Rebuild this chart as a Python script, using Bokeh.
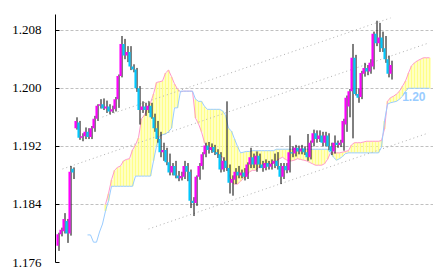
import numpy as np
from bokeh.plotting import figure
from bokeh.models import Range1d, FixedTicker, PrintfTickFormatter, ColumnDataSource
from bokeh.core.properties import value
from bokeh.embed import file_html
from bokeh.resources import INLINE

# ---- candle data (one candle per period) ----
opens = [
    1.1783, 1.1799, 1.1803, 1.1817, 1.1800, 1.1889, 1.1945, 1.1953, 1.1932, 1.1934,
    1.1940, 1.1933, 1.1945, 1.1958, 1.1976, 1.1978, 1.1972, 1.1975, 1.1968, 1.1971,
    1.1985, 1.2017, 1.2061, 1.2045, 1.2050, 1.2030, 1.2026, 1.2000, 1.1970, 1.1975,
    1.1970, 1.1976, 1.1960, 1.1945, 1.1930, 1.1912, 1.1915, 1.1898, 1.1884, 1.1893,
    1.1880, 1.1876, 1.1878, 1.1893, 1.1885, 1.1845, 1.1842, 1.1878, 1.1893, 1.1909,
    1.1921, 1.1915, 1.1919, 1.1912, 1.1909, 1.1888, 1.1900, 1.1890, 1.1870, 1.1874,
    1.1885, 1.1880, 1.1884, 1.1878, 1.1895, 1.1905, 1.1895, 1.1907, 1.1895, 1.1890,
    1.1897, 1.1892, 1.1896, 1.1900, 1.1893, 1.1878, 1.1893, 1.1887, 1.1912, 1.1910,
    1.1918, 1.1913, 1.1917, 1.1912, 1.1905, 1.1925, 1.1938, 1.1930, 1.1935, 1.1925,
    1.1935, 1.1920, 1.1913, 1.1925, 1.1922, 1.1925, 1.1950, 1.1975, 1.1996, 1.2042,
    1.1992, 1.1988, 1.2020, 1.2028, 1.2023, 1.2030, 1.2075, 1.2062, 1.2070, 1.2055,
    1.2040, 1.2020,
]
highs = [
    1.1801, 1.1808, 1.1828, 1.1820, 1.1893, 1.1891, 1.1960, 1.1955, 1.1938, 1.1946,
    1.1945, 1.1948, 1.1962, 1.1978, 1.1985, 1.1986, 1.1983, 1.1978, 1.1976, 1.1988,
    1.2019, 1.2072, 1.2068, 1.2058, 1.2058, 1.2033, 1.2028, 1.2003, 1.1982, 1.1980,
    1.1982, 1.1980, 1.1965, 1.1955, 1.1940, 1.1925, 1.1918, 1.1910, 1.1897, 1.1900,
    1.1886, 1.1885, 1.1900, 1.1897, 1.1888, 1.1850, 1.1880, 1.1897, 1.1912, 1.1925,
    1.1926, 1.1924, 1.1922, 1.1916, 1.1912, 1.1905, 1.1982, 1.1895, 1.1880, 1.1890,
    1.1893, 1.1888, 1.1890, 1.1898, 1.1918, 1.1910, 1.1913, 1.1910, 1.1900, 1.1902,
    1.1900, 1.1902, 1.1910, 1.1912, 1.1897, 1.1897, 1.1897, 1.1935, 1.1920, 1.1922,
    1.1921, 1.1922, 1.1920, 1.1937, 1.1928, 1.1943, 1.1942, 1.1942, 1.1940, 1.1940,
    1.1938, 1.1925, 1.1935, 1.1928, 1.1929, 1.1958, 1.1990, 1.1999, 1.2061, 1.2046,
    1.2000, 1.2024, 1.2035, 1.2032, 1.2040, 1.2078, 1.2093, 1.2090, 1.2078, 1.2072,
    1.2045, 1.2038,
]
lows = [
    1.1776, 1.1796, 1.1800, 1.1787, 1.1797, 1.1875, 1.1943, 1.1929, 1.1927, 1.1930,
    1.1930, 1.1930, 1.1940, 1.1955, 1.1972, 1.1970, 1.1966, 1.1964, 1.1966, 1.1968,
    1.1973, 1.2015, 1.2040, 1.2036, 1.2025, 1.2022, 1.1995, 1.1950, 1.1966, 1.1962,
    1.1966, 1.1958, 1.1940, 1.1925, 1.1905, 1.1900, 1.1894, 1.1880, 1.1880, 1.1876,
    1.1872, 1.1873, 1.1875, 1.1872, 1.1835, 1.1824, 1.1838, 1.1874, 1.1888, 1.1905,
    1.1910, 1.1911, 1.1908, 1.1904, 1.1884, 1.1885, 1.1886, 1.1855, 1.1852, 1.1868,
    1.1876, 1.1876, 1.1873, 1.1875, 1.1890, 1.1890, 1.1885, 1.1890, 1.1885, 1.1887,
    1.1888, 1.1888, 1.1890, 1.1888, 1.1868, 1.1875, 1.1883, 1.1884, 1.1905, 1.1906,
    1.1909, 1.1909, 1.1908, 1.1900, 1.1902, 1.1920, 1.1925, 1.1926, 1.1920, 1.1920,
    1.1915, 1.1908, 1.1910, 1.1918, 1.1919, 1.1914, 1.1940, 1.1960, 1.1931, 1.1990,
    1.1980, 1.1985, 1.2016, 1.2018, 1.2020, 1.2026, 1.2058, 1.2050, 1.2050, 1.2035,
    1.2015, 1.2012,
]
closes = [
    1.1799, 1.1805, 1.1820, 1.1800, 1.1885, 1.1884, 1.1955, 1.1932, 1.1934, 1.1940,
    1.1933, 1.1945, 1.1958, 1.1976, 1.1978, 1.1972, 1.1975, 1.1968, 1.1971, 1.1985,
    1.2017, 1.2061, 1.2045, 1.2050, 1.2030, 1.2026, 1.2000, 1.1970, 1.1975, 1.1970,
    1.1976, 1.1960, 1.1945, 1.1930, 1.1912, 1.1915, 1.1898, 1.1884, 1.1893, 1.1880,
    1.1876, 1.1879, 1.1893, 1.1885, 1.1845, 1.1842, 1.1878, 1.1893, 1.1909, 1.1921,
    1.1915, 1.1919, 1.1912, 1.1909, 1.1888, 1.1900, 1.1890, 1.1870, 1.1875, 1.1885,
    1.1880, 1.1884, 1.1878, 1.1895, 1.1905, 1.1895, 1.1907, 1.1895, 1.1890, 1.1897,
    1.1892, 1.1896, 1.1900, 1.1893, 1.1878, 1.1893, 1.1887, 1.1912, 1.1910, 1.1918,
    1.1913, 1.1917, 1.1912, 1.1905, 1.1925, 1.1938, 1.1930, 1.1935, 1.1925, 1.1935,
    1.1920, 1.1913, 1.1925, 1.1922, 1.1925, 1.1955, 1.1987, 1.1996, 1.2042, 1.1992,
    1.1987, 1.2021, 1.2028, 1.2023, 1.2035, 1.2075, 1.2062, 1.2070, 1.2055, 1.2040,
    1.2020, 1.2032,
]

# ---- Ichimoku cloud spans (shifted forward, start at given period index) ----
span_a_start = 16
span_a = [
    1.1840, 1.1855, 1.1874, 1.1887, 1.1891, 1.1893, 1.1900, 1.1902, 1.1903, 1.1915,
    1.1922, 1.1932, 1.1958, 1.1963, 1.1972, 1.1980, 1.1992, 1.2008, 1.2009, 1.2010,
    1.2021, 1.2025, 1.2016, 1.2006, 1.1999, 1.1995, 1.1996, 1.1996, 1.1996, 1.1996,
    1.1959, 1.1951, 1.1940, 1.1925, 1.1918, 1.1916, 1.1914, 1.1911, 1.1908, 1.1905,
    1.1896, 1.1883, 1.1872, 1.1868, 1.1868, 1.1872, 1.1876, 1.1880, 1.1885, 1.1887,
    1.1887, 1.1891, 1.1893, 1.1896, 1.1896, 1.1896, 1.1897, 1.1900, 1.1903, 1.1905,
    1.1902, 1.1900, 1.1900, 1.1901, 1.1903, 1.1902, 1.1901, 1.1900, 1.1898, 1.1896,
    1.1894, 1.1894, 1.1894, 1.1896, 1.1902, 1.1911, 1.1911, 1.1911, 1.1911, 1.1912,
    1.1913, 1.1914, 1.1922, 1.1925, 1.1925, 1.1925, 1.1926, 1.1927, 1.1927, 1.1927,
    1.1927, 1.1927, 1.1928, 1.1944, 1.1982, 1.1987, 1.1989, 1.1992, 1.1996, 1.2003,
    1.2010, 1.2021, 1.2031, 1.2035, 1.2038, 1.2040, 1.2042, 1.2042, 1.2042,
]
span_b_start = 10
span_b = [
    1.1798, 1.1798, 1.1788, 1.1788, 1.1802, 1.1813, 1.1831, 1.1845, 1.1865, 1.1865,
    1.1865, 1.1865, 1.1865, 1.1865, 1.1865, 1.1865, 1.1879, 1.1879, 1.1879, 1.1879,
    1.1879, 1.1879, 1.1900, 1.1920, 1.1934, 1.1936, 1.1937, 1.1940, 1.1945, 1.1973,
    1.1973, 1.1996, 1.1996, 1.1996, 1.1996, 1.1996, 1.1985, 1.1982, 1.1982, 1.1975,
    1.1971, 1.1971, 1.1971, 1.1971, 1.1971, 1.1969, 1.1963, 1.1945, 1.1941, 1.1930,
    1.1920, 1.1911, 1.1912, 1.1913, 1.1913, 1.1914, 1.1914, 1.1914, 1.1914, 1.1914,
    1.1914, 1.1914, 1.1914, 1.1916, 1.1916, 1.1916, 1.1916, 1.1916, 1.1916, 1.1916,
    1.1916, 1.1916, 1.1916, 1.1916, 1.1916, 1.1916, 1.1916, 1.1916, 1.1916, 1.1916,
    1.1916, 1.1911, 1.1905, 1.1901, 1.1903, 1.1906, 1.1910, 1.1911, 1.1911, 1.1911,
    1.1911, 1.1911, 1.1911, 1.1911, 1.1911, 1.1911, 1.1911, 1.1911, 1.1919, 1.1955,
    1.1978, 1.1980, 1.1981, 1.1982, 1.1985, 1.1989, 1.1996, 1.2000, 1.2000, 1.2000,
    1.2000, 1.2000, 1.2000, 1.2000, 1.2000,
]
span_b_label = "1.20"

# ---- dotted trend channel lines (period index, price) ----
trend_x0 = [1.67, 15.0, 30.33]
trend_y0 = [1.18888, 1.19604, 1.18061]
trend_x1 = [123.67, 111.0, 123.67]
trend_y1 = [1.20623, 1.20968, 1.19384]

y_ticks = [1.176, 1.184, 1.192, 1.200, 1.208]

# ---- build ----
n = len(closes)
idx = np.arange(n)
o = np.array(opens); c = np.array(closes)
bull = c >= o
candles = ColumnDataSource(dict(
    x=idx, xw=idx + 0.5, high=highs, low=lows,
    top=np.maximum(o, c), bottom=np.minimum(o, c),
    color=np.where(bull, "#ff00ff", "#00c8ff"),
))

total = span_b_start + len(span_b)
a_full = np.full(total, np.nan); a_full[span_a_start:span_a_start + len(span_a)] = span_a
b_full = np.full(total, np.nan); b_full[span_b_start:] = span_b
cidx = np.arange(total)
both = ~np.isnan(a_full) & ~np.isnan(b_full)
cloud = ColumnDataSource(dict(
    x=cidx[both], top=np.fmax(a_full, b_full)[both], bottom=np.fmin(a_full, b_full)[both]))

p = figure(width=433, height=275, output_backend="svg", toolbar_location=None,
           x_range=Range1d(-0.667, 125.333), y_range=Range1d(1.176, 1.21016),
           min_border_left=55, min_border_right=0, min_border_top=14, min_border_bottom=13,
           background_fill_color="white", border_fill_color="white")
p.outline_line_color = None
p.xaxis.visible = False
p.xgrid.visible = False

ax = p.yaxis[0]
ax.ticker = FixedTicker(ticks=y_ticks, minor_ticks=[])
ax.formatter = PrintfTickFormatter(format="%.3f")
ax.major_tick_in = 4
ax.major_tick_out = 0
ax.minor_tick_line_color = None
ax.axis_line_color = "black"
ax.major_tick_line_color = "black"
ax.major_label_text_font = "Liberation Sans Narrow"
ax.major_label_text_font_size = "13px"
ax.major_label_text_color = "black"
ax.major_label_standoff = 14

p.ygrid.ticker = FixedTicker(ticks=y_ticks)
p.ygrid.grid_line_color = "#c0c0c0"
p.ygrid.grid_line_dash = "3 2"
p.ygrid.grid_line_width = 1

# span B value label (partly covered by the cloud)
p.text(x=[total - 1], y=[span_b[-1]], text=[span_b_label], text_align="right",
       text_baseline="top", x_offset=-4, y_offset=4, text_color="#99ccff",
       text_font=value("Liberation Sans"), text_font_style="bold", text_font_size="12px")

# cloud stripes
p.vbar(x="x", top="top", bottom="bottom", width=0.667, source=cloud,
       fill_color="#ffff88", line_color=None)
p.line(cidx, a_full, line_color="#ff99cc", line_width=1)
p.line(cidx, b_full, line_color="#99ccff", line_width=1)

# trend lines
p.segment(x0=trend_x0, y0=trend_y0, x1=trend_x1, y1=trend_y1,
          line_color="#b0b0b0", line_width=1, line_dash="1 3")

# candles
p.segment(x0="xw", x1="xw", y0="low", y1="high", line_color="black", line_width=1, source=candles)
p.vbar(x="x", top="top", bottom="bottom", width=0.7, fill_color="color",
       line_color=None, source=candles)

open("out.html", "w").write(file_html(p, INLINE))
